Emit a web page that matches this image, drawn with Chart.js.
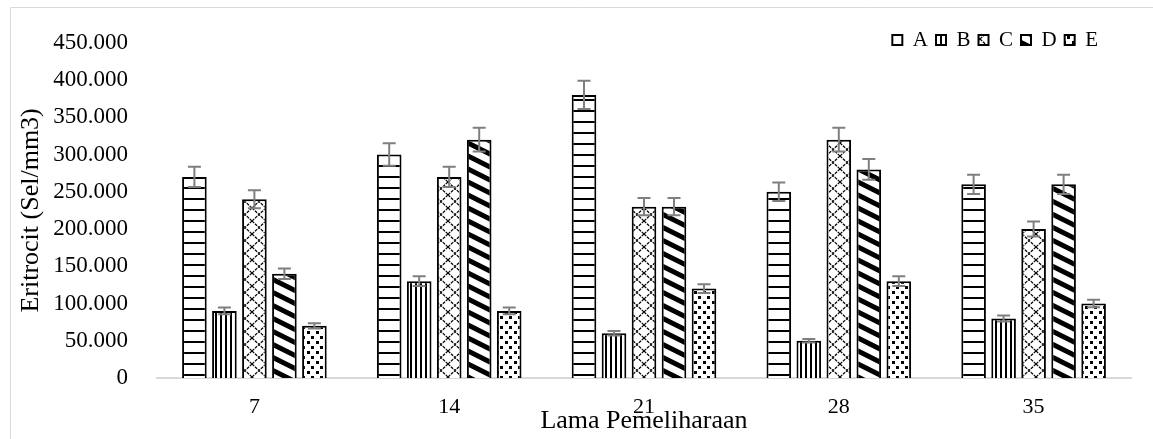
<!DOCTYPE html>
<html>
<head>
<meta charset="utf-8">
<script src="https://cdn.jsdelivr.net/npm/chart.js@4.4.0/dist/chart.umd.min.js"></script>
<style>
  html, body { margin: 0; padding: 0; background: #fff; }
</style>
</head>
<body>
<canvas id="eritrocitChart" width="1153" height="439"></canvas>
<script>
  /* ===== DATA ===== */
  const hari = ["7", "14", "21", "28", "35"];
  const perlakuan = ["A", "B", "C", "D", "E"];

  const nilaiA = [270000, 300000, 380000, 250000, 260000];
  const nilaiB = [90000, 130000, 60000, 50000, 80000];
  const nilaiC = [240000, 270000, 230000, 320000, 200000];
  const nilaiD = [140000, 320000, 230000, 280000, 260000];
  const nilaiE = [70000, 90000, 120000, 130000, 100000];

  // simpangan (error bar) tiap batang
  const galatA = [13500, 15000, 19000, 12500, 13000];
  const galatB = [4500, 6500, 3000, 2500, 4000];
  const galatC = [12000, 13500, 11500, 16000, 10000];
  const galatD = [7000, 16000, 11500, 14000, 13000];
  const galatE = [3500, 4500, 6000, 6500, 5000];

  const sumbuY = { min: 0, max: 450000, step: 50000 };

  const HURUF = "'Liberation Serif', 'Times New Roman', serif";

  /* ===== POLA ISIAN BATANG ===== */
  function buatPola(jenis) {
    const c = document.createElement("canvas");
    const g = c.getContext("2d");
    const isiPutih = (w, h) => {
      c.width = w; c.height = h;
      g.fillStyle = "#fff";
      g.fillRect(0, 0, w, h);
      g.fillStyle = "#000";
      g.strokeStyle = "#000";
    };

    if (jenis === "horizontal") {
      isiPutih(8, 11);
      g.fillRect(0, 0, 8, 2);
    } else if (jenis === "vertikal") {
      isiPutih(5, 8);
      g.fillRect(0, 0, 2, 8);
    } else if (jenis === "belah") {
      isiPutih(14, 13);
      g.lineWidth = 1.2;
      g.setLineDash([3, 1]);
      g.beginPath();
      g.moveTo(0, 0); g.lineTo(14, 13);
      g.moveTo(14, 0); g.lineTo(0, 13);
      g.stroke();
    } else if (jenis === "miring") {
      isiPutih(26, 13);
      g.lineWidth = 5;
      g.beginPath();
      [-13, 0, 13].forEach(o => {
        g.moveTo(-2, o - 1); g.lineTo(28, o + 14);
      });
      g.stroke();
    } else if (jenis === "titik") {
      isiPutih(9, 10);
      g.fillRect(1, 1, 3, 3);
      g.fillRect(5, 6, 3, 3);
    }
    return g.createPattern(c, "repeat");
  }

  function formatRibuan(v) {
    return String(v).replace(/\B(?=(\d{3})+(?!\d))/g, ".");
  }

  /* ===== PLUGIN ===== */
  // bingkai abu-abu di kiri & atas
  const bingkai = {
    id: "bingkai",
    beforeDraw(chart) {
      const ctx = chart.ctx;
      ctx.save();
      ctx.strokeStyle = "#d9d9d9";
      ctx.lineWidth = 1;
      ctx.beginPath();
      ctx.moveTo(10.5, chart.height);
      ctx.lineTo(10.5, 7.5);
      ctx.lineTo(chart.width, 7.5);
      ctx.stroke();
      ctx.restore();
    }
  };

  // garis galat abu-abu di atas batang
  const garisGalat = {
    id: "garisGalat",
    afterDatasetsDraw(chart) {
      const ctx = chart.ctx;
      const y = chart.scales.y;
      ctx.save();
      ctx.strokeStyle = "#7f7f7f";
      ctx.lineWidth = 2;
      chart.data.datasets.forEach((ds, i) => {
        chart.getDatasetMeta(i).data.forEach((bar, j) => {
          const atas = y.getPixelForValue(ds.data[j] + ds.galat[j]);
          const bawah = y.getPixelForValue(ds.data[j] - ds.galat[j]);
          const x = bar.x;
          ctx.beginPath();
          ctx.moveTo(x, atas); ctx.lineTo(x, bawah);
          ctx.moveTo(x - 6.5, atas); ctx.lineTo(x + 6.5, atas);
          ctx.moveTo(x - 6.5, bawah); ctx.lineTo(x + 6.5, bawah);
          ctx.stroke();
        });
      });
      ctx.restore();
    }
  };

  // legenda dibuat hampir tanpa tinggi, lalu diletakkan di dalam area grafik kanan atas
  const geserLegenda = {
    id: "geserLegenda",
    afterLayout(chart) {
      const lg = chart.legend;
      lg.top = 21.5;
      lg.bottom = 70;
      lg.height = lg.bottom - lg.top;
      lg.right = chart.chartArea.right - 25;
      lg.left = chart.chartArea.left;
      lg.width = lg.right - lg.left;
    }
  };

  /* ===== GRAFIK ===== */
  const pola = ["horizontal", "vertikal", "belah", "miring", "titik"];
  const semuaNilai = [nilaiA, nilaiB, nilaiC, nilaiD, nilaiE];
  const semuaGalat = [galatA, galatB, galatC, galatD, galatE];

  const ctx = document.getElementById("eritrocitChart");

  new Chart(ctx, {
    type: "bar",
    data: {
      labels: hari,
      datasets: perlakuan.map((nama, i) => ({
        label: nama,
        data: semuaNilai[i],
        galat: semuaGalat[i],
        backgroundColor: buatPola(pola[i]),
        borderColor: "#000",
        borderWidth: 2,
        categoryPercentage: 0.77,
        barPercentage: 0.82
      }))
    },
    options: {
      responsive: false,
      animation: false,
      layout: { padding: { left: 0, top: 21, right: 22, bottom: 0 } },
      plugins: {
        legend: {
          position: "top",
          align: "end",
          maxHeight: 1,
          labels: {
            boxWidth: 10,
            boxHeight: 10,
            padding: 8,
            color: "#000",
            font: { family: HURUF, size: 21 }
          }
        },
        tooltip: { enabled: false }
      },
      scales: {
        x: {
          grid: { display: false, drawTicks: false },
          border: { display: true, color: "#d9d9d9", width: 2 },
          ticks: { color: "#000", padding: 16, font: { family: HURUF, size: 22 } },
          title: {
            display: true,
            text: "Lama Pemeliharaan",
            color: "#000",
            font: { family: HURUF, size: 26 },
            padding: { top: 0, bottom: 2 }
          },
          afterFit(scale) { scale.height = 61; }
        },
        y: {
          min: sumbuY.min,
          max: sumbuY.max,
          grid: { display: false, drawTicks: false },
          border: { display: false },
          ticks: {
            stepSize: sumbuY.step,
            color: "#000",
            padding: 29,
            font: { family: HURUF, size: 23 },
            callback: v => formatRibuan(v)
          },
          title: {
            display: true,
            text: "Eritrocit (Sel/mm3)",
            color: "#000",
            font: { family: HURUF, size: 26 },
            padding: { top: 16, bottom: 0 }
          },
          afterFit(scale) { scale.width = 157; }
        }
      }
    },
    plugins: [bingkai, garisGalat, geserLegenda]
  });
</script>
</body>
</html>
